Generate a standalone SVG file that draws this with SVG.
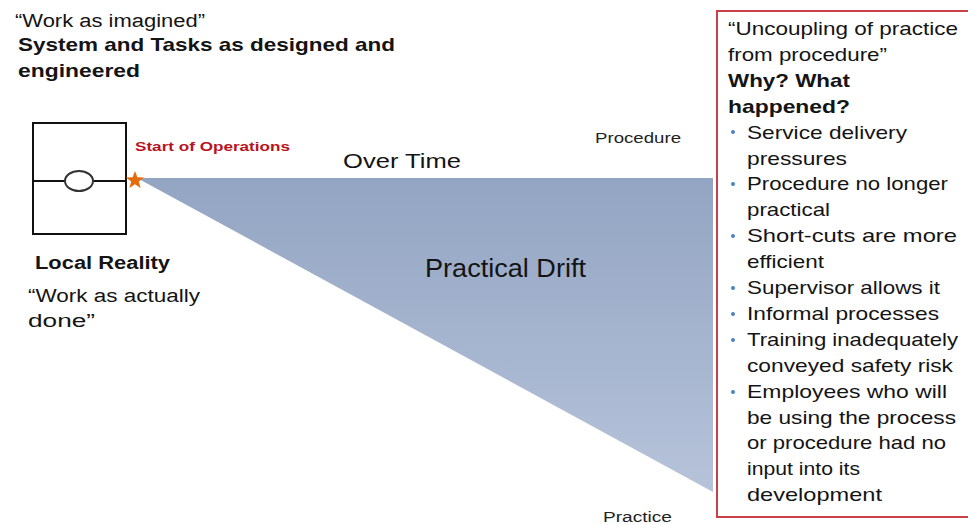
<svg xmlns="http://www.w3.org/2000/svg" width="968" height="525" viewBox="0 0 968 525">
  <defs>
    <linearGradient id="driftFill" x1="0" y1="0" x2="0" y2="1">
      <stop offset="0" stop-color="#93a5c3"/>
      <stop offset="1" stop-color="#b6c3da"/>
    </linearGradient>
    <style>
      text { font-family: "Liberation Sans", Arial, sans-serif; fill: #141414; }
      .b { font-weight: bold; }
      .t18 { font-size: 18px; }
      .t19 { font-size: 19px; }
      .small { font-size: 14px; fill: #222; }
      .red { font-size: 13px; font-weight: bold; fill: #b8141c; }
      .note { font-size: 19px; }
      .bullet { fill: #4f81bd; }
    </style>
  </defs>

  <rect width="968" height="525" fill="#ffffff"/>

  <!-- heading: designed work -->
  <g id="heading">
    <text class="t18" x="15" y="27" textLength="190" lengthAdjust="spacingAndGlyphs">“Work as imagined”</text>
    <text class="t19 b" x="18" y="51" textLength="377" lengthAdjust="spacingAndGlyphs">System and Tasks as designed and</text>
    <text class="t19 b" x="18" y="77" textLength="122" lengthAdjust="spacingAndGlyphs">engineered</text>
  </g>

  <!-- drift wedge between procedure and practice -->
  <g id="drift">
    <polygon points="137,178 713,178 713,492" fill="url(#driftFill)"/>
    <text x="343" y="168" font-size="21" textLength="118" lengthAdjust="spacingAndGlyphs">Over Time</text>
    <text x="425" y="277" font-size="25" textLength="161" lengthAdjust="spacingAndGlyphs">Practical Drift</text>
    <text class="small" x="595" y="143" textLength="86" lengthAdjust="spacingAndGlyphs">Procedure</text>
    <text class="small" x="603" y="522" textLength="69" lengthAdjust="spacingAndGlyphs">Practice</text>
  </g>

  <!-- system box with valve symbol -->
  <g id="system">
    <rect x="33" y="123" width="93" height="111" fill="#ffffff" stroke="#111" stroke-width="2"/>
    <line x1="33" y1="181" x2="126" y2="181" stroke="#111" stroke-width="2"/>
    <ellipse cx="79" cy="181" rx="14" ry="10" fill="#ffffff" stroke="#333" stroke-width="2"/>
  </g>

  <!-- start of operations marker -->
  <g id="start">
    <polygon points="135,171 137.4,177.2 144,177.4 138.8,181.5 140.6,188 135,184.2 129.4,188 131.2,181.5 126,177.4 132.6,177.2" fill="#e46c0a"/>
    <text class="red" x="135" y="151" textLength="155" lengthAdjust="spacingAndGlyphs">Start of Operations</text>
  </g>

  <!-- local reality -->
  <g id="local">
    <text class="t18 b" x="35" y="269" textLength="135" lengthAdjust="spacingAndGlyphs">Local Reality</text>
    <text class="t18" x="28" y="302" textLength="172" lengthAdjust="spacingAndGlyphs">“Work as actually</text>
    <text class="t18" x="28" y="327" textLength="67" lengthAdjust="spacingAndGlyphs">done”</text>
  </g>

  <!-- reasons for uncoupling -->
  <g id="reasons">
    <rect x="717" y="11" width="262" height="506" fill="#ffffff" stroke="#c8404a" stroke-width="2"/>
    <g class="note">
      <text x="728" y="35" textLength="230" lengthAdjust="spacingAndGlyphs">“Uncoupling of practice</text>
      <text x="728" y="61" textLength="159" lengthAdjust="spacingAndGlyphs">from procedure”</text>
      <text class="b" x="728" y="87" textLength="122" lengthAdjust="spacingAndGlyphs">Why? What</text>
      <text class="b" x="728" y="113" textLength="122" lengthAdjust="spacingAndGlyphs">happened?</text>
      <text x="747" y="138.6" textLength="160" lengthAdjust="spacingAndGlyphs">Service delivery</text>
      <text x="747" y="164.5" textLength="100" lengthAdjust="spacingAndGlyphs">pressures</text>
      <text x="747" y="190.4" textLength="201" lengthAdjust="spacingAndGlyphs">Procedure no longer</text>
      <text x="747" y="216.3" textLength="83" lengthAdjust="spacingAndGlyphs">practical</text>
      <text x="747" y="242.2" textLength="210" lengthAdjust="spacingAndGlyphs">Short-cuts are more</text>
      <text x="747" y="268.1" textLength="77" lengthAdjust="spacingAndGlyphs">efficient</text>
      <text x="747" y="294" textLength="193" lengthAdjust="spacingAndGlyphs">Supervisor allows it</text>
      <text x="747" y="319.9" textLength="192" lengthAdjust="spacingAndGlyphs">Informal processes</text>
      <text x="747" y="345.8" textLength="211" lengthAdjust="spacingAndGlyphs">Training inadequately</text>
      <text x="747" y="371.7" textLength="206" lengthAdjust="spacingAndGlyphs">conveyed safety risk</text>
      <text x="747" y="397.6" textLength="200" lengthAdjust="spacingAndGlyphs">Employees  who will</text>
      <text x="747" y="423.5" textLength="209" lengthAdjust="spacingAndGlyphs">be using the process</text>
      <text x="747" y="449.4" textLength="199" lengthAdjust="spacingAndGlyphs">or procedure had no</text>
      <text x="747" y="475.3" textLength="113" lengthAdjust="spacingAndGlyphs">input into its</text>
      <text x="747" y="501.2" textLength="135" lengthAdjust="spacingAndGlyphs">development</text>
    </g>
    <g class="bullet">
      <circle cx="733" cy="132" r="2"/>
      <circle cx="733" cy="184" r="2"/>
      <circle cx="733" cy="236" r="2"/>
      <circle cx="733" cy="288" r="2"/>
      <circle cx="733" cy="314" r="2"/>
      <circle cx="733" cy="340" r="2"/>
      <circle cx="733" cy="392" r="2"/>
    </g>
  </g>
</svg>
